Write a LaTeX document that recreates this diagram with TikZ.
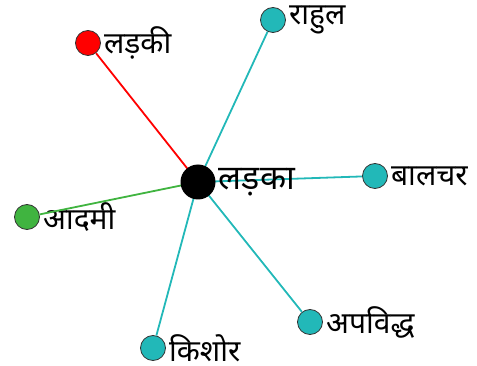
\documentclass[tikz,border=0pt]{standalone}
\usepackage{fontspec}
\newfontfamily\deva[Script=Devanagari]{Noto Sans}
\usepackage{tikz}
\usetikzlibrary{positioning}

\definecolor{tealnode}{RGB}{34,184,184}
\definecolor{rednode}{RGB}{255,0,0}
\definecolor{greennode}{RGB}{64,180,64}

\begin{document}
\begin{tikzpicture}[
  x=1pt, y=-1pt,
  leaf/.style = {circle, draw=black!80, line width=0.8pt, minimum size=25pt,
                 inner sep=0pt, fill=tealnode,
                 label={[font=\deva\fontsize{30}{30}\selectfont, inner sep=1pt, xshift=2pt]east:#1}},
  hub/.style  = {circle, fill=black, minimum size=35pt, inner sep=0pt,
                 label={[font=\deva\fontsize{34}{34}\selectfont, inner sep=1pt, xshift=2pt]east:#1}},
  edge/.style = {line width=1.8pt, draw=tealnode},
]
\useasboundingbox (0,0) rectangle (477,366);

% neighbours
\node[leaf={लड़की}, fill=rednode]   (girl)    at (88,43)   {};
\node[leaf={राहुल}]                 (rahul)   at (273,20)  {};
\node[leaf={बालचर}]                 (scout)   at (375,176) {};
\node[leaf={आदमी}, fill=greennode] (man)     at (27,217)  {};
\node[leaf={अपविद्ध}]               (outcast) at (310,322) {};
\node[leaf={किशोर}]                 (teen)    at (153,348) {};

% edges first, hub on top
\coordinate (c) at (198,182);
\draw[edge, draw=rednode]   (girl)    -- (c);
\draw[edge, draw=greennode] (man)     -- (c);
\draw[edge] (rahul)   -- (c);
\draw[edge] (scout)   -- (c);
\draw[edge] (outcast) -- (c);
\draw[edge] (teen)    -- (c);

\node[hub={लड़का}] (boy) at (c) {};

\end{tikzpicture}
\end{document}
